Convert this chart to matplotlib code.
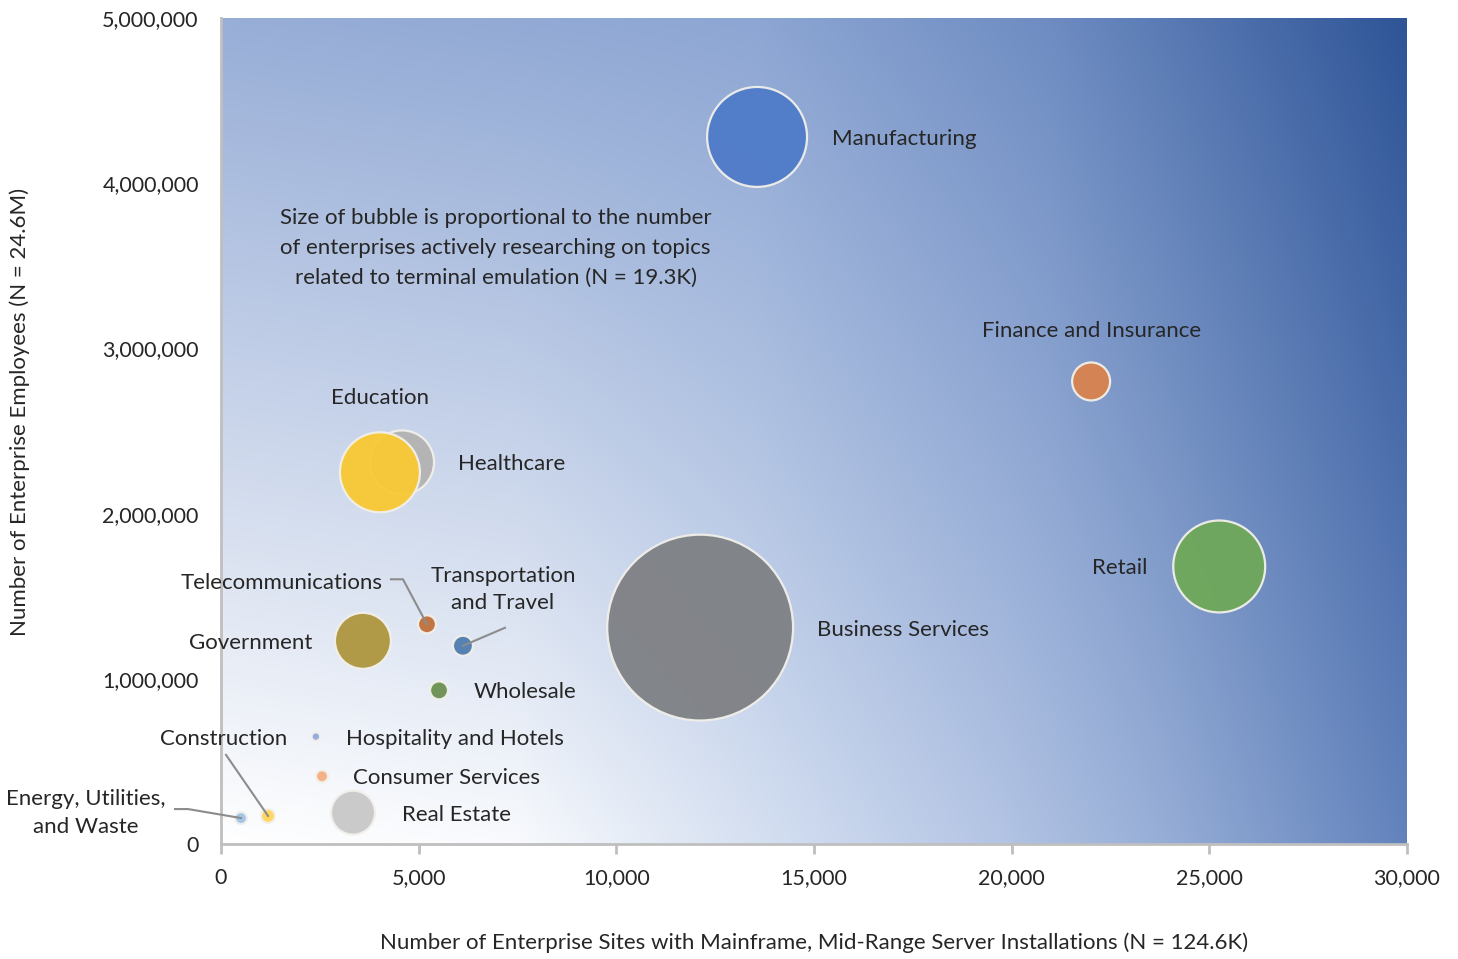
import numpy as np
import matplotlib
matplotlib.use("Agg")
from matplotlib import pyplot as plt
from matplotlib.colors import to_rgb
from matplotlib.lines import Line2D
from matplotlib.ticker import FuncFormatter

plt.rcParams['font.family'] = ['Lato', 'DejaVu Sans']

# data
sectors = ["Manufacturing", "Finance and Insurance", "Retail", "Business Services",
           "Healthcare", "Education", "Government", "Telecommunications",
           "Transportation\nand Travel", "Wholesale", "Hospitality and Hotels",
           "Consumer Services", "Real Estate", "Energy, Utilities,\nand Waste", "Construction"]
sites = [13560, 22010, 25250, 12120, 4580, 4020, 3590, 5210, 6120, 5515, 2400, 2555, 3340, 506, 1190]
employees = [4280000, 2800000, 1680000, 1310000, 2310000, 2250000, 1230000, 1330000,
             1200000, 930000, 650000, 410000, 190000, 157000, 170000]
researching = [2695, 389, 2281, 9323, 1104, 1725, 845, 87, 108, 87, 20, 39, 522, 39, 53]

colors = ["#4F7BC8", "#D9834E", "#6FA85A", "#7E8084", "#B3B3B3", "#F9C933", "#AE953E",
          "#C0703A", "#4E7DB0", "#6A8F52", "#8FAADC", "#F4AD80", "#C8C8C8", "#9DC3E6", "#FFD45A"]

# label offsets in pixels (dx right, dy up) and alignment
labels = [
    (75, 0, 'left'), (0, 52, 'center'), (-72, 0, 'right'),
    (117, 0, 'left'), (56, 0, 'left'), (0, 76, 'center'),
    (-51, 0, 'right'), (-44, 43, 'right'), (40, 58, 'center'),
    (35, 0, 'left'), (30, 0, 'left'), (31, 0, 'left'),
    (49, 0, 'left'), (-155, 7, 'center'), (-44, 79, 'center'),
]
# leader lines: pixel offsets from the bubble centre
leaders = {
    "Telecommunications": [(-36, 45), (-24, 45), (0, 0)],
    "Transportation\nand Travel": [(42, 18), (0, 0)],
    "Energy, Utilities,\nand Waste": [(-66, 9), (-53, 9), (0, 0)],
    "Construction": [(-42, 61), (0, 0)],
}

fig = plt.figure(figsize=(14.58, 9.59), dpi=100)
ax = fig.add_axes([221/1458, 1-844/959, (1407-221)/1458, (844-18)/959])
ax.set_xlim(0, 30000)
ax.set_ylim(0, 5000000)

# gradient background: bottom row and top row, blended vertically
u = np.linspace(0, 1, 400)
bot_stops = [(0, "#FFFFFF"), (0.25, "#F8FAFD"), (0.49, "#CFDBEF"), (0.66, "#B3C4E4"),
             (0.79, "#98AFD7"), (1.0, "#6383BD")]
top_stops = [(0, "#98AED7"), (0.45, "#8DA6D3"), (0.7, "#6E8CC2"), (1.0, "#2F5597")]

def row(stops):
    pos = [p for p, c in stops]
    rgb = np.array([to_rgb(c) for p, c in stops])
    return np.stack([np.interp(u, pos, rgb[:, k]) for k in range(3)], axis=1)

bot = row(bot_stops)
top = row(top_stops)
v = np.linspace(0, 1, 300)[:, None, None]
img = bot[None, :, :] * (1 - v) + top[None, :, :] * v
ax.imshow(img, extent=[0, 30000, 0, 5000000], origin='lower', aspect='auto', zorder=0)

sizes = [r * 1.92 for r in researching]
ax.scatter(sites, employees, s=sizes, c=colors, edgecolors="#F2F0EA", linewidths=1.6,
           alpha=0.95, zorder=3)

for name, x, y, (dx, dy, ha) in zip(sectors, sites, employees, labels):
    ax.annotate(name, (x, y), xytext=(dx*0.72, (dy - 2)*0.72), textcoords='offset points',
                ha=ha, va='center', fontsize=16, color='#262626', zorder=4,
                linespacing=1.45)
    if name in leaders:
        cx, cy = ax.transData.transform((x, y))
        pts = leaders[name]
        fig.add_artist(Line2D([cx + p[0] for p in pts], [cy + p[1] for p in pts],
                              transform=None, color='#8C8C8C', lw=1.5, zorder=5))

ax.text(0.2316, 0.7215, "Size of bubble is proportional to the number\nof enterprises actively researching on topics\nrelated to terminal emulation (N = 19.3K)",
        transform=ax.transAxes, ha='center', va='center', fontsize=16, color='#262626',
        linespacing=1.6, zorder=4)

for s in ['top', 'right']:
    ax.spines[s].set_visible(False)
for s in ['left', 'bottom']:
    ax.spines[s].set_color('#BFBFBF')
    ax.spines[s].set_linewidth(2)
ax.set_xticks(range(0, 30001, 5000))
ax.set_yticks(range(0, 5000001, 1000000))
ax.xaxis.set_major_formatter(FuncFormatter(lambda v, p: f"{int(v):,}"))
ax.yaxis.set_major_formatter(FuncFormatter(lambda v, p: f"{int(v):,}"))
ax.tick_params(axis='x', length=7, width=2, color='#BFBFBF', pad=10, labelsize=15.5, labelcolor='#262626')
ax.tick_params(axis='y', length=0, pad=16, labelsize=15.5, labelcolor='#262626')

fig.text(814/1458, 1-943/959, "Number of Enterprise Sites with Mainframe, Mid-Range Server Installations (N = 124.6K)",
         ha='center', va='center', fontsize=16, color='#262626')
fig.text(20/1458, 1-412/959, "Number of Enterprise Employees (N = 24.6M)", rotation=90,
         ha='center', va='center', fontsize=16, color='#262626')

fig.savefig("out.png", dpi=100)
